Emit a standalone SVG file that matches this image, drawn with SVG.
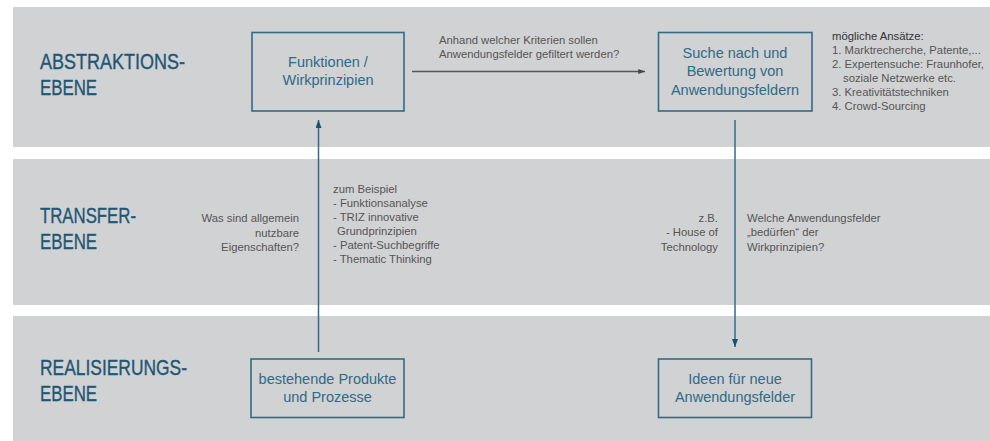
<svg xmlns="http://www.w3.org/2000/svg" width="990" height="441" viewBox="0 0 990 441">
<style>
.band{fill:#d1d2d4}
.title{font-family:"Liberation Sans",Arial,sans-serif;font-size:21.5px;fill:#1e5675;stroke:#1e5675;stroke-width:0.35}
.box{fill:none;stroke:#336b86;stroke-width:1.6}
.bt{font-family:"Liberation Sans",Arial,sans-serif;font-size:14.5px;fill:#2f6a86;text-anchor:middle}
.st{font-family:"Liberation Sans",Arial,sans-serif;font-size:11.3px;fill:#555}
.dk{fill:#333}
.end{text-anchor:end}
.vline{stroke:#336b86;stroke-width:1.5;fill:none}
.hline{stroke:#555;stroke-width:1.3;fill:none}
</style>
<defs>
<marker id="ahb" viewBox="0 0 8 6" refX="8" refY="3" markerWidth="8" markerHeight="6" markerUnits="userSpaceOnUse" orient="auto"><path d="M0,0 L8,3 L0,6 z" fill="#1c4f6b"/></marker>
<marker id="ahg" viewBox="0 0 8 6" refX="8" refY="3" markerWidth="8" markerHeight="5" markerUnits="userSpaceOnUse" orient="auto"><path d="M0,0 L8,3 L0,6 z" fill="#444"/></marker>
</defs>
<g id="bands">
<rect class="band" x="13" y="7" width="977" height="140"/>
<rect class="band" x="13" y="159" width="977" height="146"/>
<rect class="band" x="13" y="316" width="977" height="125"/>
</g>
<g id="level-abstraktion">
<text class="title" x="40" y="69" textLength="145" lengthAdjust="spacingAndGlyphs">ABSTRAKTIONS-</text>
<text class="title" x="40" y="95" textLength="57" lengthAdjust="spacingAndGlyphs">EBENE</text>
</g>
<g id="level-transfer">
<text class="title" x="40" y="222.5" textLength="96" lengthAdjust="spacingAndGlyphs">TRANSFER-</text>
<text class="title" x="40" y="248.5" textLength="57" lengthAdjust="spacingAndGlyphs">EBENE</text>
</g>
<g id="level-realisierung">
<text class="title" x="40" y="375" textLength="147" lengthAdjust="spacingAndGlyphs">REALISIERUNGS-</text>
<text class="title" x="40" y="400.5" textLength="57" lengthAdjust="spacingAndGlyphs">EBENE</text>
</g>
<g id="connectors">
<line class="hline" x1="412" y1="71.5" x2="645" y2="71.5" marker-end="url(#ahg)"/>
<line class="vline" x1="318.5" y1="352" x2="318.5" y2="120" marker-end="url(#ahb)"/>
<line class="vline" x1="735" y1="120" x2="735" y2="347" marker-end="url(#ahb)"/>
</g>
<g id="node-funktionen">
<rect class="box" x="252" y="32.5" width="152" height="78.5"/>
<text class="bt" x="328" y="66.5">Funktionen /</text>
<text class="bt" x="328" y="84.5">Wirkprinzipien</text>
</g>
<g id="node-suche">
<rect class="box" x="658.5" y="32.5" width="153.5" height="78.5"/>
<text class="bt" x="735" y="57.5">Suche nach und</text>
<text class="bt" x="735" y="76">Bewertung von</text>
<text class="bt" x="735" y="94.5">Anwendungsfeldern</text>
</g>
<g id="node-bestehende">
<rect class="box" x="251" y="359" width="153" height="58.5"/>
<text class="bt" x="327.5" y="384">bestehende Produkte</text>
<text class="bt" x="327.5" y="402">und Prozesse</text>
</g>
<g id="node-ideen">
<rect class="box" x="658.5" y="359" width="153" height="58.5"/>
<text class="bt" x="735" y="384">Ideen für neue</text>
<text class="bt" x="735" y="402">Anwendungsfelder</text>
</g>
<g id="label-kriterien">
<text class="st" x="439" y="43.5">Anhand welcher Kriterien sollen</text>
<text class="st" x="439" y="57.5">Anwendungsfelder gefiltert werden?</text>
</g>
<g id="label-ansaetze">
<text class="st dk" x="832" y="40">mögliche Ansätze:</text>
<text class="st" x="832" y="54">1. Marktrecherche, Patente,...</text>
<text class="st" x="832" y="68">2. Expertensuche: Fraunhofer,</text>
<text class="st" x="843" y="82">soziale Netzwerke etc.</text>
<text class="st" x="832" y="96">3. Kreativitätstechniken</text>
<text class="st" x="832" y="110">4. Crowd-Sourcing</text>
</g>
<g id="label-eigenschaften">
<text class="st end" x="299" y="222">Was sind allgemein</text>
<text class="st end" x="299" y="236.5">nutzbare</text>
<text class="st end" x="299" y="251">Eigenschaften?</text>
</g>
<g id="label-beispiel">
<text class="st" x="333" y="193">zum Beispiel</text>
<text class="st" x="333" y="207">- Funktionsanalyse</text>
<text class="st" x="333" y="221">- TRIZ innovative</text>
<text class="st" x="337" y="235">Grundprinzipien</text>
<text class="st" x="333" y="249">- Patent-Suchbegriffe</text>
<text class="st" x="333" y="263">- Thematic Thinking</text>
</g>
<g id="label-zb">
<text class="st end" x="718" y="221.5">z.B.</text>
<text class="st end" x="718" y="236">- House of</text>
<text class="st end" x="718" y="250.5">Technology</text>
</g>
<g id="label-beduerfen">
<text class="st" x="747" y="221.5">Welche Anwendungsfelder</text>
<text class="st" x="747" y="236">„bedürfen“ der</text>
<text class="st" x="747" y="250.5">Wirkprinzipien?</text>
</g>
</svg>
